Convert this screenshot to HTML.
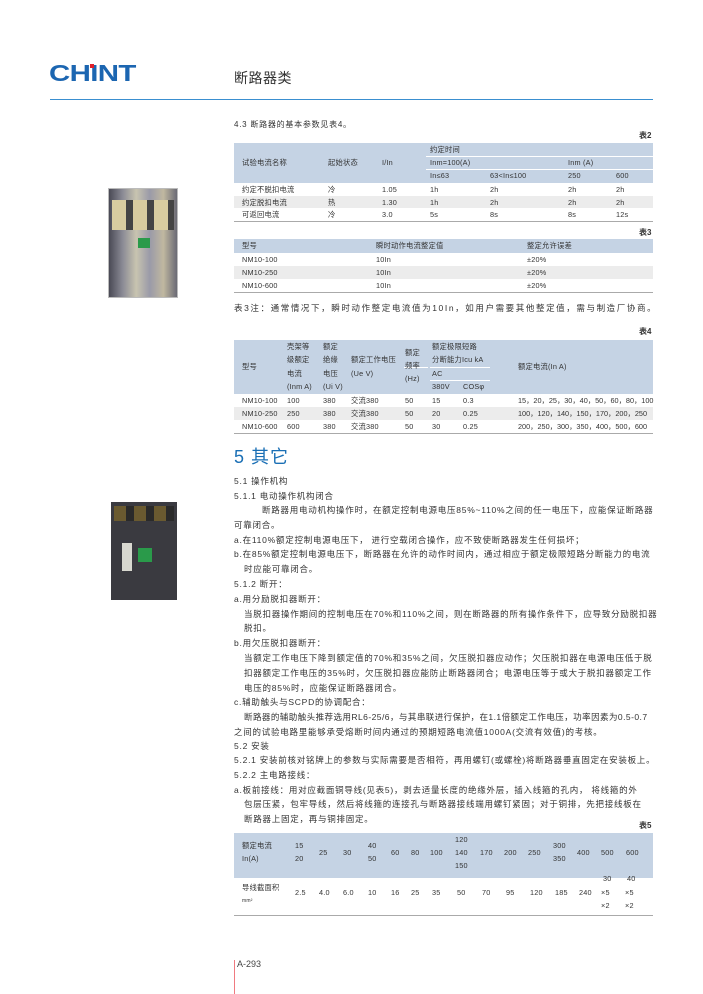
<!DOCTYPE html>
<html><head><meta charset="utf-8"><style>
*{margin:0;padding:0;box-sizing:border-box}
body{width:703px;height:994px;background:#fff;position:relative;overflow:hidden;font-family:"Liberation Sans","Noto Sans CJK SC",sans-serif;color:#333}
.t{position:absolute;white-space:nowrap;font-size:8.5px;line-height:12px;letter-spacing:0.75px}
.s{position:absolute;white-space:nowrap;font-size:7.3px;line-height:10px;letter-spacing:.2px;color:#333}
.bg{position:absolute;background:#c5d3e4}
.gr{position:absolute;background:#ececec}
.ln{position:absolute;height:1px;background:#aaa}
.wl{position:absolute;height:1px;background:#fff}
.bt{position:absolute;font-size:8px;font-weight:bold;color:#333}
</style></head><body>

<!-- header -->
<div style="position:absolute;left:49px;top:59px;font-family:'Liberation Sans',sans-serif;font-weight:bold;font-size:23px;color:#1c66b1;letter-spacing:-0.5px;transform:scaleX(1.28);transform-origin:left;line-height:28px">CHINT</div>
<div style="position:absolute;left:90px;top:64px;width:4px;height:4px;background:#e0202a"></div>
<div style="position:absolute;left:234px;top:68px;font-size:14px;color:#333;letter-spacing:0.5px">断路器类</div>
<div style="position:absolute;left:50px;top:99px;width:603px;height:1px;background:#3a8fd0"></div>

<!-- product images -->
<div style="position:absolute;left:108px;top:188px;width:70px;height:110px;background:linear-gradient(90deg,#4a4a55,#8a8a95 20%,#c8c4b0 40%,#9a9aa8 60%,#c0b8a0 80%,#6a6a75);border:1px solid #bbb"></div>
<div style="position:absolute;left:112px;top:200px;width:62px;height:30px;background:repeating-linear-gradient(90deg,#d8cca0 0 14px,#444 14px 21px)"></div>
<div style="position:absolute;left:138px;top:238px;width:12px;height:10px;background:#2a9a4a"></div>
<div style="position:absolute;left:111px;top:502px;width:66px;height:98px;background:#3a3a40"></div>
<div style="position:absolute;left:114px;top:506px;width:60px;height:15px;background:repeating-linear-gradient(90deg,#6a5a30 0 12px,#2a2a2a 12px 20px)"></div>
<div style="position:absolute;left:138px;top:548px;width:14px;height:14px;background:#2a9a4a"></div>
<div style="position:absolute;left:122px;top:543px;width:10px;height:28px;background:#d8d8d0"></div>

<!-- 4.3 -->
<div class="t" style="left:234px;top:119px;font-size:8px">4.3 断路器的基本参数见表4。</div>
<div class="bt" style="left:639px;top:130px">表2</div>
<!-- table 2 -->
<div class="bg" style="left:234px;top:143px;width:419px;height:40px"></div>
<div class="wl" style="left:426px;top:156px;width:227px"></div>
<div class="wl" style="left:426px;top:169px;width:227px"></div>
<div class="s" style="left:430px;top:145px">约定时间</div>
<div class="s" style="left:242px;top:158px">试验电流名称</div>
<div class="s" style="left:328px;top:158px">起始状态</div>
<div class="s" style="left:382px;top:158px">I/In</div>
<div class="s" style="left:430px;top:158px">Inm=100(A)</div>
<div class="s" style="left:568px;top:158px">Inm (A)</div>
<div class="s" style="left:430px;top:171px">In≤63</div>
<div class="s" style="left:490px;top:171px">63&lt;In≤100</div>
<div class="s" style="left:568px;top:171px">250</div>
<div class="s" style="left:616px;top:171px">600</div>
<div class="gr" style="left:234px;top:196px;width:419px;height:12px"></div>
<div class="s" style="left:242px;top:185px">约定不脱扣电流</div><div class="s" style="left:328px;top:185px">冷</div><div class="s" style="left:382px;top:185px">1.05</div><div class="s" style="left:430px;top:185px">1h</div><div class="s" style="left:490px;top:185px">2h</div><div class="s" style="left:568px;top:185px">2h</div><div class="s" style="left:616px;top:185px">2h</div>
<div class="s" style="left:242px;top:198px">约定脱扣电流</div><div class="s" style="left:328px;top:198px">热</div><div class="s" style="left:382px;top:198px">1.30</div><div class="s" style="left:430px;top:198px">1h</div><div class="s" style="left:490px;top:198px">2h</div><div class="s" style="left:568px;top:198px">2h</div><div class="s" style="left:616px;top:198px">2h</div>
<div class="s" style="left:242px;top:210px">可返回电流</div><div class="s" style="left:328px;top:210px">冷</div><div class="s" style="left:382px;top:210px">3.0</div><div class="s" style="left:430px;top:210px">5s</div><div class="s" style="left:490px;top:210px">8s</div><div class="s" style="left:568px;top:210px">8s</div><div class="s" style="left:616px;top:210px">12s</div>
<div class="ln" style="left:234px;top:221px;width:419px"></div>

<div class="bt" style="left:639px;top:227px">表3</div>
<div class="bg" style="left:234px;top:239px;width:419px;height:14px"></div>
<div class="s" style="left:242px;top:241px">型号</div><div class="s" style="left:376px;top:241px">瞬时动作电流整定值</div><div class="s" style="left:527px;top:241px">整定允许误差</div>
<div class="gr" style="left:234px;top:266px;width:419px;height:13px"></div>
<div class="s" style="left:242px;top:255px">NM10-100</div><div class="s" style="left:376px;top:255px">10In</div><div class="s" style="left:527px;top:255px">±20%</div>
<div class="s" style="left:242px;top:268px">NM10-250</div><div class="s" style="left:376px;top:268px">10In</div><div class="s" style="left:527px;top:268px">±20%</div>
<div class="s" style="left:242px;top:281px">NM10-600</div><div class="s" style="left:376px;top:281px">10In</div><div class="s" style="left:527px;top:281px">±20%</div>
<div class="ln" style="left:234px;top:292px;width:419px"></div>
<div class="t" style="left:234px;top:302px;font-size:8.5px;letter-spacing:1.6px">表3注：通常情况下，瞬时动作整定电流值为10In，如用户需要其他整定值，需与制造厂协商。</div>

<div class="bt" style="left:639px;top:326px">表4</div>
<div class="bg" style="left:234px;top:340px;width:419px;height:54px"></div>
<div class="wl" style="left:430px;top:367px;width:60px"></div>
<div class="wl" style="left:430px;top:380px;width:60px"></div>
<div class="wl" style="left:404px;top:367px;width:24px"></div>
<div class="s" style="left:287px;top:342px">壳架等</div><div class="s" style="left:323px;top:342px">额定</div><div class="s" style="left:432px;top:342px">额定极限短路</div>
<div class="s" style="left:287px;top:355px">级额定</div><div class="s" style="left:323px;top:355px">绝缘</div><div class="s" style="left:351px;top:355px">额定工作电压</div><div class="s" style="left:432px;top:355px">分断能力Icu kA</div>
<div class="s" style="left:405px;top:348px">额定</div><div class="s" style="left:405px;top:361px">频率</div><div class="s" style="left:405px;top:374px">(Hz)</div>
<div class="s" style="left:242px;top:362px">型号</div><div class="s" style="left:518px;top:362px">额定电流(In A)</div>
<div class="s" style="left:287px;top:369px">电流</div><div class="s" style="left:323px;top:369px">电压</div><div class="s" style="left:351px;top:369px">(Ue V)</div><div class="s" style="left:432px;top:369px">AC</div>
<div class="s" style="left:287px;top:382px">(Inm A)</div><div class="s" style="left:323px;top:382px">(Ui V)</div><div class="s" style="left:432px;top:382px">380V</div><div class="s" style="left:463px;top:382px">COSφ</div>
<div class="gr" style="left:234px;top:407px;width:419px;height:13px"></div>
<div class="s" style="left:242px;top:396px">NM10-100</div><div class="s" style="left:287px;top:396px">100</div><div class="s" style="left:323px;top:396px">380</div><div class="s" style="left:351px;top:396px">交流380</div><div class="s" style="left:405px;top:396px">50</div><div class="s" style="left:432px;top:396px">15</div><div class="s" style="left:463px;top:396px">0.3</div><div class="s" style="left:518px;top:396px;letter-spacing:0">15，20，25，30，40，50，60，80，100</div>
<div class="s" style="left:242px;top:409px">NM10-250</div><div class="s" style="left:287px;top:409px">250</div><div class="s" style="left:323px;top:409px">380</div><div class="s" style="left:351px;top:409px">交流380</div><div class="s" style="left:405px;top:409px">50</div><div class="s" style="left:432px;top:409px">20</div><div class="s" style="left:463px;top:409px">0.25</div><div class="s" style="left:518px;top:409px;letter-spacing:0">100，120，140，150，170，200，250</div>
<div class="s" style="left:242px;top:422px">NM10-600</div><div class="s" style="left:287px;top:422px">600</div><div class="s" style="left:323px;top:422px">380</div><div class="s" style="left:351px;top:422px">交流380</div><div class="s" style="left:405px;top:422px">50</div><div class="s" style="left:432px;top:422px">30</div><div class="s" style="left:463px;top:422px">0.25</div><div class="s" style="left:518px;top:422px;letter-spacing:0">200，250，300，350，400，500，600</div>
<div class="ln" style="left:234px;top:433px;width:419px"></div>

<div style="position:absolute;left:234px;top:443px;font-size:18px;color:#1a6fb5;letter-spacing:1px;white-space:nowrap">5 其它</div>

<div class="t" style="left:234px;top:475px">5.1 操作机构</div>
<div class="t" style="left:234px;top:490px">5.1.1 电动操作机构闭合</div>
<div class="t" style="left:262px;top:504px">断路器用电动机构操作时，在额定控制电源电压85%~110%之间的任一电压下，应能保证断路器</div>
<div class="t" style="left:234px;top:519px">可靠闭合。</div>
<div class="t" style="left:234px;top:534px">a.在110%额定控制电源电压下， 进行空载闭合操作，应不致使断路器发生任何损坏；</div>
<div class="t" style="left:234px;top:548px">b.在85%额定控制电源电压下，断路器在允许的动作时间内，通过相应于额定极限短路分断能力的电流</div>
<div class="t" style="left:244px;top:563px">时应能可靠闭合。</div>
<div class="t" style="left:234px;top:578px">5.1.2 断开：</div>
<div class="t" style="left:234px;top:593px">a.用分励脱扣器断开：</div>
<div class="t" style="left:244px;top:608px">当脱扣器操作期间的控制电压在70%和110%之间，则在断路器的所有操作条件下，应导致分励脱扣器</div>
<div class="t" style="left:244px;top:622px">脱扣。</div>
<div class="t" style="left:234px;top:637px">b.用欠压脱扣器断开：</div>
<div class="t" style="left:244px;top:652px">当额定工作电压下降到额定值的70%和35%之间，欠压脱扣器应动作；欠压脱扣器在电源电压低于脱</div>
<div class="t" style="left:244px;top:667px">扣器额定工作电压的35%时，欠压脱扣器应能防止断路器闭合；电源电压等于或大于脱扣器额定工作</div>
<div class="t" style="left:244px;top:682px">电压的85%时，应能保证断路器闭合。</div>
<div class="t" style="left:234px;top:696px">c.辅助触头与SCPD的协调配合：</div>
<div class="t" style="left:244px;top:711px;letter-spacing:0.45px">断路器的辅助触头推荐选用RL6-25/6，与其串联进行保护，在1.1倍额定工作电压，功率因素为0.5-0.7</div>
<div class="t" style="left:234px;top:726px">之间的试验电路里能够承受熔断时间内通过的预期短路电流值1000A(交流有效值)的考核。</div>
<div class="t" style="left:234px;top:740px">5.2 安装</div>
<div class="t" style="left:234px;top:754px">5.2.1 安装前核对铭牌上的参数与实际需要是否相符，再用螺钉(或螺栓)将断路器垂直固定在安装板上。</div>
<div class="t" style="left:234px;top:769px">5.2.2 主电路接线：</div>
<div class="t" style="left:234px;top:784px">a.板前接线：用对应截面铜导线(见表5)，剥去适量长度的绝缘外层，插入线箍的孔内， 将线箍的外</div>
<div class="t" style="left:244px;top:798px">包层压紧，包牢导线，然后将线箍的连接孔与断路器接线端用螺钉紧固；对于铜排，先把接线板在</div>
<div class="t" style="left:244px;top:813px">断路器上固定，再与铜排固定。</div>

<div class="bt" style="left:639px;top:820px">表5</div>
<div class="bg" style="left:234px;top:833px;width:419px;height:45px"></div>
<div class="s" style="left:242px;top:841px">额定电流</div><div class="s" style="left:242px;top:854px">In(A)</div>
<div class="s" style="left:295px;top:841px">15</div><div class="s" style="left:295px;top:854px">20</div>
<div class="s" style="left:319px;top:848px">25</div><div class="s" style="left:343px;top:848px">30</div>
<div class="s" style="left:368px;top:841px">40</div><div class="s" style="left:368px;top:854px">50</div>
<div class="s" style="left:391px;top:848px">60</div><div class="s" style="left:411px;top:848px">80</div><div class="s" style="left:430px;top:848px">100</div>
<div class="s" style="left:455px;top:835px">120</div><div class="s" style="left:455px;top:848px">140</div><div class="s" style="left:455px;top:861px">150</div>
<div class="s" style="left:480px;top:848px">170</div><div class="s" style="left:504px;top:848px">200</div><div class="s" style="left:528px;top:848px">250</div>
<div class="s" style="left:553px;top:841px">300</div><div class="s" style="left:553px;top:854px">350</div>
<div class="s" style="left:577px;top:848px">400</div><div class="s" style="left:601px;top:848px">500</div><div class="s" style="left:626px;top:848px">600</div>
<div class="s" style="left:242px;top:883px">导线截面积</div><div class="s" style="left:242px;top:896px;font-size:5px">mm²</div>
<div class="s" style="left:295px;top:888px">2.5</div><div class="s" style="left:319px;top:888px">4.0</div><div class="s" style="left:343px;top:888px">6.0</div><div class="s" style="left:368px;top:888px">10</div><div class="s" style="left:391px;top:888px">16</div><div class="s" style="left:411px;top:888px">25</div><div class="s" style="left:432px;top:888px">35</div><div class="s" style="left:457px;top:888px">50</div><div class="s" style="left:482px;top:888px">70</div><div class="s" style="left:506px;top:888px">95</div><div class="s" style="left:530px;top:888px">120</div><div class="s" style="left:555px;top:888px">185</div><div class="s" style="left:579px;top:888px">240</div>
<div class="s" style="left:603px;top:874px">30</div><div class="s" style="left:601px;top:888px">×5</div><div class="s" style="left:601px;top:901px">×2</div>
<div class="s" style="left:627px;top:874px">40</div><div class="s" style="left:625px;top:888px">×5</div><div class="s" style="left:625px;top:901px">×2</div>
<div class="ln" style="left:234px;top:915px;width:419px"></div>

<div style="position:absolute;left:234px;top:960px;width:1px;height:34px;background:#f07a80"></div>
<div style="position:absolute;left:237px;top:959px;font-size:9px;color:#444">A-293</div>
</body></html>
